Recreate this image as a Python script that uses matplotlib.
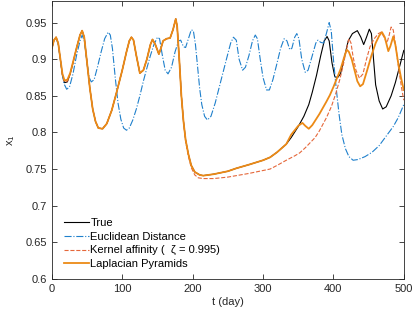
import matplotlib
matplotlib.use("Agg")
import matplotlib.pyplot as plt

plt.rcParams['font.family'] = ['Liberation Sans', 'DejaVu Sans']
plt.rcParams['font.size'] = 8

# True
t_true = [0, 3, 6, 9, 12, 15, 18, 22, 26, 30, 35, 40, 43, 46, 50, 54, 58, 62, 66, 72,
          78, 85, 92, 100, 106, 110, 113, 116, 120, 125, 130, 135, 140, 143, 147, 152,
          155, 158, 163, 168, 172, 176, 178, 181, 184, 187, 190, 194, 198, 203, 210,
          215, 230, 250, 262, 280, 300, 310, 320, 333, 340, 350, 358, 365, 370, 376,
          382, 387, 391, 394, 398, 402, 406, 410, 415, 421, 427, 434, 439, 443, 447,
          451, 454, 457, 460, 465, 470, 475, 482, 488, 494, 500]
x_true = [0.915, 0.926, 0.930, 0.922, 0.900, 0.878, 0.868, 0.869, 0.880, 0.895, 0.915,
          0.933, 0.939, 0.930, 0.895, 0.860, 0.832, 0.815, 0.806, 0.805, 0.812, 0.830,
          0.855, 0.885, 0.910, 0.925, 0.930, 0.926, 0.905, 0.881, 0.885, 0.900, 0.920,
          0.927, 0.920, 0.907, 0.915, 0.925, 0.928, 0.929, 0.940, 0.955, 0.945, 0.900,
          0.850, 0.815, 0.790, 0.770, 0.755, 0.746, 0.742, 0.741, 0.743, 0.747, 0.751,
          0.756, 0.762, 0.766, 0.773, 0.784, 0.793, 0.808, 0.822, 0.838, 0.855, 0.878,
          0.905, 0.925, 0.931, 0.925, 0.895, 0.876, 0.875, 0.880, 0.900, 0.925, 0.935,
          0.939, 0.930, 0.920, 0.930, 0.941, 0.935, 0.900, 0.865, 0.843, 0.832, 0.835,
          0.850, 0.868, 0.890, 0.912]

# Euclidean Distance
t_eucl = [0, 3, 6, 9, 13, 17, 21, 25, 30, 35, 40, 43, 46, 50, 53, 56, 60, 65, 70, 75,
          80, 83, 86, 90, 94, 98, 102, 106, 110, 115, 120, 125, 130, 135, 140, 145, 150,
          153, 157, 161, 165, 170, 175, 180, 183, 187, 190, 194, 198, 201, 204, 207, 210,
          213, 217, 221, 226, 232, 240, 248, 254, 258, 262, 266, 271, 275, 280, 285, 289,
          292, 296, 300, 305, 309, 314, 320, 325, 330, 334, 338, 341, 345, 348, 351, 355,
          360, 364, 370, 375, 378, 382, 386, 390, 394, 397, 400, 404, 408, 412, 417, 422,
          428, 435, 445, 455, 465, 475, 485, 492, 500]
x_eucl = [0.915, 0.926, 0.929, 0.920, 0.893, 0.867, 0.859, 0.862, 0.880, 0.905, 0.925,
          0.933, 0.925, 0.895, 0.875, 0.869, 0.872, 0.890, 0.910, 0.928, 0.937, 0.933,
          0.915, 0.875, 0.840, 0.818, 0.806, 0.803, 0.806, 0.817, 0.832, 0.850, 0.870,
          0.888, 0.905, 0.920, 0.930, 0.928, 0.905, 0.885, 0.880, 0.889, 0.910, 0.925,
          0.926, 0.917, 0.916, 0.928, 0.940, 0.939, 0.920, 0.890, 0.860, 0.838, 0.822,
          0.817, 0.822, 0.840, 0.870, 0.900, 0.922, 0.930, 0.926, 0.900, 0.885, 0.889,
          0.905, 0.925, 0.933, 0.928, 0.900, 0.875, 0.858, 0.858, 0.872, 0.895, 0.915,
          0.928, 0.925, 0.913, 0.915, 0.930, 0.935, 0.928, 0.900, 0.882, 0.885, 0.905,
          0.922, 0.926, 0.923, 0.922, 0.935, 0.950, 0.938, 0.900, 0.860, 0.825, 0.797,
          0.778, 0.767, 0.762, 0.763, 0.767, 0.773, 0.782, 0.795, 0.808, 0.820, 0.838]

# Kernel affinity
t_kern = [0, 3, 6, 9, 12, 15, 18, 22, 26, 30, 35, 40, 43, 46, 50, 54, 58, 62, 66, 72,
          78, 85, 92, 100, 106, 110, 113, 116, 120, 125, 130, 135, 140, 143, 147, 152,
          155, 158, 163, 168, 172, 176, 178, 181, 184, 187, 190, 194, 198, 203, 208,
          215, 230, 250, 262, 280, 300, 310, 320, 333, 345, 352, 360, 368, 374, 380,
          390, 397, 403, 409, 414, 418, 422, 425, 428, 432, 437, 442, 447, 452, 458,
          464, 468, 472, 476, 479, 482, 485, 489, 493, 497, 500]
x_kern = [0.915, 0.926, 0.930, 0.922, 0.900, 0.878, 0.869, 0.870, 0.880, 0.895, 0.915,
          0.933, 0.939, 0.930, 0.895, 0.860, 0.832, 0.815, 0.806, 0.805, 0.812, 0.830,
          0.855, 0.885, 0.910, 0.925, 0.930, 0.926, 0.905, 0.881, 0.885, 0.900, 0.920,
          0.927, 0.920, 0.907, 0.915, 0.925, 0.928, 0.929, 0.940, 0.955, 0.945, 0.900,
          0.850, 0.815, 0.788, 0.767, 0.752, 0.742, 0.738, 0.737, 0.737, 0.739, 0.741,
          0.744, 0.748, 0.750, 0.755, 0.762, 0.768, 0.772, 0.779, 0.787, 0.793, 0.802,
          0.820, 0.835, 0.852, 0.872, 0.892, 0.911, 0.928, 0.922, 0.903, 0.885, 0.874,
          0.880, 0.900, 0.917, 0.928, 0.935, 0.937, 0.930, 0.922, 0.932, 0.944, 0.940,
          0.915, 0.885, 0.860, 0.844]

# Laplacian Pyramids
t_lap = [0, 3, 6, 9, 12, 15, 18, 22, 26, 30, 35, 40, 43, 46, 50, 54, 58, 62, 66, 72,
         78, 85, 92, 100, 106, 110, 113, 116, 120, 125, 130, 135, 140, 143, 147, 152,
         155, 158, 163, 168, 172, 176, 178, 181, 184, 187, 190, 194, 198, 203, 210,
         215, 230, 250, 262, 280, 300, 310, 320, 333, 340, 345, 350, 356, 360, 365, 370,
         380, 390, 395, 400, 405, 410, 416, 419, 422, 426, 430, 434, 438, 442, 448, 454,
         460, 465, 469, 473, 478, 481, 485, 488, 492, 496, 500]
x_lap = [0.915, 0.926, 0.930, 0.922, 0.901, 0.880, 0.871, 0.872, 0.881, 0.896, 0.915,
         0.933, 0.939, 0.930, 0.895, 0.860, 0.832, 0.815, 0.806, 0.805, 0.812, 0.830,
         0.855, 0.885, 0.910, 0.925, 0.930, 0.926, 0.905, 0.881, 0.885, 0.900, 0.920,
         0.927, 0.920, 0.907, 0.915, 0.925, 0.928, 0.929, 0.940, 0.955, 0.945, 0.900,
         0.850, 0.815, 0.790, 0.770, 0.755, 0.746, 0.742, 0.741, 0.743, 0.747, 0.751,
         0.756, 0.762, 0.766, 0.773, 0.784, 0.797, 0.803, 0.809, 0.813, 0.809, 0.805,
         0.810, 0.825, 0.842, 0.851, 0.862, 0.874, 0.886, 0.905, 0.913, 0.910, 0.900,
         0.885, 0.870, 0.863, 0.866, 0.885, 0.905, 0.922, 0.932, 0.937, 0.930, 0.911,
         0.918, 0.931, 0.920, 0.895, 0.875, 0.858]

fig = plt.figure(figsize=(4.15, 3.13), dpi=100)
ax = fig.add_axes([0.125, 0.109, 0.848, 0.889])

ax.plot(t_true, x_true, color='black', lw=0.8, label='True')
ax.plot(t_eucl, x_eucl, color='#1f80cc', lw=0.8, linestyle='-.', label='Euclidean Distance')
ax.plot(t_kern, x_kern, color='#e5673a', lw=0.8, linestyle='--', label='Kernel affinity (  ζ = 0.995)')
ax.plot(t_lap, x_lap, color='#ec8a16', lw=1.3, label='Laplacian Pyramids')

ax.set_xlim(0, 500)
ax.set_ylim(0.6, 0.98)
ax.set_xticks([0, 100, 200, 300, 400, 500])
ax.set_yticks([0.6, 0.65, 0.7, 0.75, 0.8, 0.85, 0.9, 0.95])
ax.set_yticklabels(['0.6', '0.65', '0.7', '0.75', '0.8', '0.85', '0.9', '0.95'])
ax.tick_params(direction='in', top=True, right=True, length=3.5, width=0.6,
               colors='#262626', labelsize=8)
for s in ax.spines.values():
    s.set_linewidth(0.6)
    s.set_color('#262626')

ax.set_xlabel('t (day)', color='#262626', labelpad=2)
ax.set_ylabel(r'$\mathregular{x_1}$', color='#262626', labelpad=6)

ax.legend(loc='lower left', frameon=False, handlelength=2.25, handletextpad=0.15,
          labelspacing=0.33, borderaxespad=0.48, bbox_to_anchor=(0.006, 0.0))

fig.savefig('out.png', dpi=100)
